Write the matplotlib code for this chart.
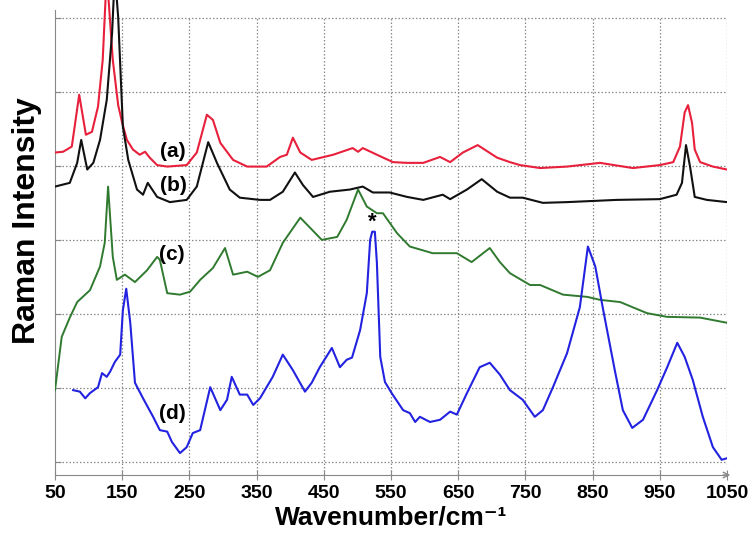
import numpy as np
import matplotlib
matplotlib.use('Agg')
import matplotlib.pyplot as plt

plt.rcParams['font.family'] = ['Liberation Sans', 'DejaVu Sans']

# spectrum (a) - red
wn_a = [50, 62, 75, 86, 96, 105, 114, 121, 127, 136, 144, 150, 157, 166, 176, 184, 191, 202, 217,
        246, 261, 276, 285, 296, 315, 336, 355, 365, 385, 395, 404, 415, 432, 464, 493, 501, 508,
        529, 553, 574, 598, 623, 638, 657, 679, 708, 727, 742, 772, 812, 861, 910, 950, 970, 980,
        987, 992, 998, 1002, 1010, 1029, 1050]
int_a = [4.18, 4.19, 4.26, 4.96, 4.42, 4.46, 4.80, 5.43, 6.60, 5.43, 4.82, 4.58, 4.35, 4.22, 4.15,
         4.19, 4.11, 4.01, 3.99, 4.01, 4.18, 4.69, 4.62, 4.31, 4.08, 3.99, 3.99, 3.99, 4.12, 4.15,
         4.38, 4.18, 4.08, 4.15, 4.24, 4.19, 4.24, 4.15, 4.05, 4.04, 4.04, 4.12, 4.05, 4.18, 4.28,
         4.11, 4.05, 4.01, 3.97, 3.99, 4.04, 3.97, 4.01, 4.05, 4.26, 4.72, 4.82, 4.58, 4.22, 4.05,
         3.99, 3.95]

# spectrum (b) - black
wn_b = [50, 72, 83, 89, 98, 107, 117, 127, 135, 139, 144, 151, 159, 172, 181, 188, 202, 221, 246,
        261, 278, 291, 310, 325, 355, 370, 389, 407, 419, 434, 459, 489, 508, 523, 548, 574, 598,
        627, 638, 663, 685, 708, 727, 746, 776, 812, 886, 950, 975, 983, 989, 995, 1002, 1020, 1050]
int_b = [3.72, 3.77, 4.04, 4.35, 3.95, 4.04, 4.35, 4.89, 5.80, 6.60, 6.01, 4.53, 4.08, 3.68, 3.61,
         3.77, 3.58, 3.51, 3.54, 3.72, 4.32, 4.04, 3.68, 3.57, 3.54, 3.54, 3.65, 3.91, 3.74, 3.58,
         3.65, 3.68, 3.72, 3.64, 3.64, 3.58, 3.54, 3.61, 3.55, 3.68, 3.82, 3.65, 3.57, 3.57, 3.50,
         3.51, 3.54, 3.55, 3.61, 3.77, 4.28, 3.99, 3.58, 3.54, 3.51]

# spectrum (c) - green
wn_c = [50, 60, 72, 83, 102, 117, 124, 129, 136, 142, 154, 169, 187, 202, 206, 217, 236, 251, 266,
        285, 303, 315, 336, 352, 370, 389, 415, 447, 470, 484, 501, 514, 529, 538, 559, 578, 612,
        648, 670, 697, 712, 727, 757, 772, 806, 842, 861, 891, 931, 961, 1010, 1050]
int_c = [0.97, 1.69, 1.95, 2.16, 2.32, 2.64, 2.96, 3.72, 2.77, 2.46, 2.53, 2.43, 2.59, 2.77, 2.73,
         2.28, 2.26, 2.30, 2.46, 2.62, 2.89, 2.53, 2.57, 2.50, 2.59, 2.96, 3.30, 3.00, 3.04, 3.27,
         3.68, 3.45, 3.36, 3.36, 3.09, 2.91, 2.82, 2.82, 2.70, 2.89, 2.70, 2.55, 2.39, 2.39, 2.26,
         2.23, 2.19, 2.16, 2.01, 1.96, 1.95, 1.88]

# spectrum (d) - blue
wn_d = [77, 87, 95, 102, 114, 120, 127, 132, 139, 147, 151, 156, 162, 169, 181, 196, 206, 217, 224,
        236, 246, 255, 266, 281, 296, 306, 313, 325, 336, 345, 355, 374, 389, 404, 422, 432, 444,
        462, 474, 484, 492, 504, 514, 519, 522, 526, 529, 534, 541, 551, 568, 578, 586, 593, 608,
        623, 638, 648, 663, 682, 697, 712, 727, 746, 764, 776, 791, 812, 831, 843, 854, 865, 883,
        895, 909, 925, 946, 961, 976, 987, 999, 1014, 1029, 1042, 1050]
int_d = [0.97, 0.95, 0.86, 0.93, 1.01, 1.20, 1.15, 1.22, 1.35, 1.45, 2.05, 2.34, 1.88, 1.07, 0.86,
         0.61, 0.43, 0.41, 0.27, 0.12, 0.20, 0.39, 0.43, 1.01, 0.70, 0.84, 1.15, 0.91, 0.91, 0.77,
         0.86, 1.15, 1.45, 1.24, 0.95, 1.07, 1.28, 1.54, 1.28, 1.38, 1.41, 1.78, 2.28, 3.00, 3.11,
         3.11, 2.69, 1.42, 1.08, 0.93, 0.70, 0.66, 0.54, 0.61, 0.54, 0.57, 0.68, 0.64, 0.93, 1.28,
         1.34, 1.18, 0.97, 0.84, 0.61, 0.70, 1.01, 1.47, 2.09, 2.91, 2.64, 2.09, 1.24, 0.70, 0.46,
         0.57, 0.97, 1.28, 1.61, 1.42, 1.11, 0.61, 0.20, 0.03, 0.05]

xticks = [50, 150, 250, 350, 450, 550, 650, 750, 850, 950, 1050]
ylevels = [0, 1, 2, 3, 4, 5, 6]

fig = plt.figure(figsize=(7.54, 5.36), dpi=100)
ax = fig.add_axes([55/754, 61/536, 672/754, 475/536])
ybot = -0.176
ax.set_xlim(50, 1050)
ax.set_ylim(ybot, 6.24)

# dotted grid, stops at the top grid line
ax.hlines(ylevels, 50, 1050, colors='#8a8a8a', linestyles=(0, (1.2, 1.6)), linewidth=0.9, zorder=1)
ax.vlines(xticks[1:], ybot, 6, colors='#8a8a8a', linestyles=(0, (1.2, 1.6)), linewidth=0.9, zorder=1)

ax.plot(wn_a, int_a, color='#e8203c', lw=1.5, zorder=3)
ax.plot(wn_b, int_b, color='#111111', lw=1.5, zorder=4)
ax.plot(wn_c, int_c, color='#2f7a2f', lw=1.4, zorder=3)
ax.plot(wn_d, int_d, color='#2222e0', lw=1.5, zorder=3)

for lbl, xx, yy in [('(a)', 226, 4.19), ('(b)', 226, 3.74), ('(c)', 224, 2.80), ('(d)', 224, 0.66)]:
    ax.text(xx, yy, lbl, fontsize=15, fontweight='bold', ha='center', va='center', zorder=5)
ax.text(522, 3.10, '*', fontsize=16, fontweight='bold', ha='center', va='bottom', zorder=5)

for s in ['top', 'right']:
    ax.spines[s].set_visible(False)
ax.spines['left'].set_color('#888888')
ax.spines['bottom'].set_color('#888888')
ax.spines['left'].set_bounds(ybot, 6.1)
ax.annotate('', xy=(1059, ybot), xytext=(1040, ybot), annotation_clip=False,
            arrowprops=dict(arrowstyle='->', color='#888888', lw=1))

ax.set_xticks(xticks)
ax.set_xticklabels([str(t) for t in xticks], fontsize=14, fontweight='bold')
ax.tick_params(axis='x', direction='inout', length=7, color='#888888', pad=4)
ax.set_yticks(ylevels)
ax.set_yticklabels([])
ax.tick_params(axis='y', direction='in', length=4, color='#888888')

ax.set_xlabel('Wavenumber/cm\u207b\u00b9', fontsize=19, fontweight='bold', labelpad=2)
ax.set_ylabel('Raman Intensity', fontsize=23, fontweight='bold')
ax.yaxis.set_label_coords(-0.02, 0.535)

fig.savefig('out.png', dpi=100)
